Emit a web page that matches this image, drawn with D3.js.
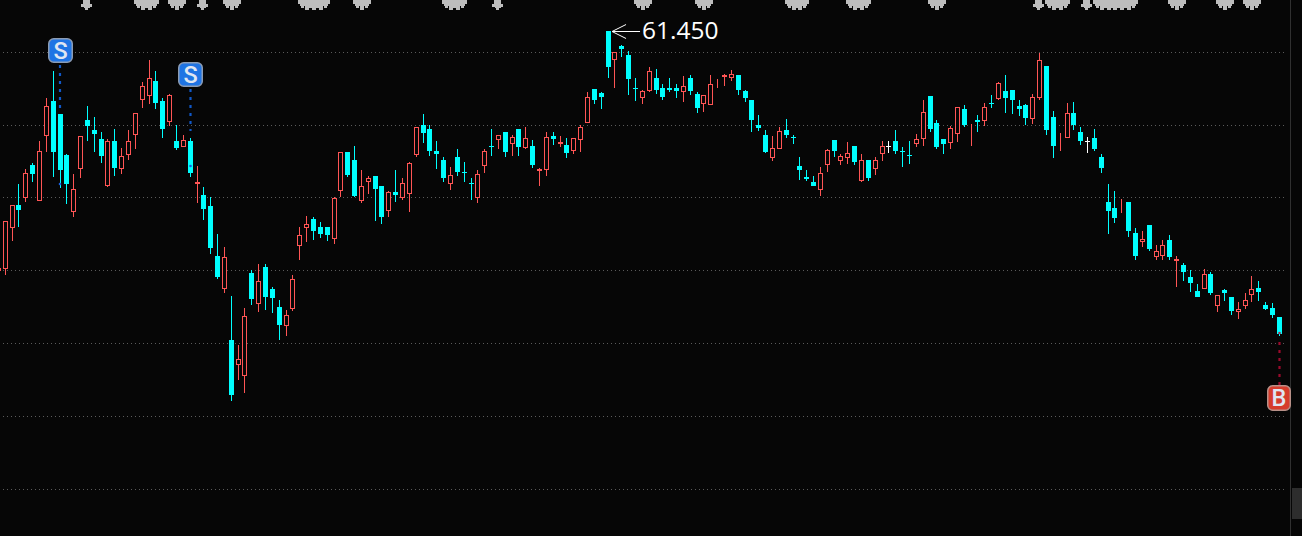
<!DOCTYPE html>
<html><head><meta charset="utf-8">
<script src="https://cdn.jsdelivr.net/npm/d3@7"></script>
<style>html,body{margin:0;padding:0;background:#060606;overflow:hidden}svg{display:block}</style>
</head><body><svg id="c" width="1302" height="536"></svg>
<script>
const opens=[44.99,45.13,47.95,49.53,50.01,52.27,49.81,54.26,56.67,55.78,
52.96,49.05,52.00,55.36,54.68,54.06,50.83,53.92,52.00,52.96,
54.33,56.74,57.01,58.04,56.67,55.23,53.92,53.51,53.92,50.97,
50.21,49.46,46.02,43.76,40.26,38.54,37.78,44.86,42.73,45.27,
43.76,42.52,41.22,42.38,46.71,47.95,48.57,48.02,48.02,47.19,
50.49,53.17,52.62,49.80,51.11,51.52,50.83,49.11,50.42,50.01,
50.28,52.96,55.02,54.75,53.23,52.62,50.97,52.82,51.79,51.04,
50.01,52.21,53.58,53.99,54.54,53.72,54.75,53.44,53.58,51.86,
51.93,54.26,53.72,53.65,53.23,53.99,55.16,57.49,57.22,61.45,
59.49,60.45,59.83,57.56,56.88,57.36,58.25,57.56,57.56,57.56,
57.29,58.25,57.15,56.46,56.40,57.97,58.32,58.25,58.46,57.36,
56.74,55.02,54.33,52.75,53.37,54.68,54.20,52.21,51.45,51.11,
50.56,52.27,53.99,52.55,52.75,53.58,51.17,52.62,52.00,53.03,
53.56,53.92,53.23,52.96,53.72,54.06,57.01,55.16,54.06,53.78,
54.40,56.12,54.61,55.36,55.30,56.53,56.81,57.36,57.42,56.33,
56.40,55.43,56.88,59.07,55.57,53.99,54.13,55.85,54.54,53.89,
54.13,52.82,49.73,49.32,49.46,49.73,47.61,46.98,48.15,45.96,
46.02,47.12,45.68,45.41,44.58,43.62,43.76,44.79,42.59,43.69,
43.21,42.18,42.59,43.35,43.83,42.66,42.45,41.83];
const closes=[45.20,48.43,49.53,49.18,51.72,51.66,53.23,56.33,53.17,51.93,
50.97,50.63,54.26,54.95,54.40,52.89,53.92,52.07,52.89,53.92,
55.85,57.70,58.25,56.53,54.75,57.08,53.44,53.99,51.72,51.11,
49.25,46.57,44.58,45.96,36.48,38.95,41.90,43.07,44.31,43.21,
43.14,41.29,41.97,44.44,47.47,48.22,47.74,47.53,47.47,50.01,
53.17,51.59,50.14,50.83,51.38,50.63,48.70,50.42,50.21,51.04,
52.41,54.88,54.47,53.23,53.03,51.38,51.59,51.79,51.72,50.97,
51.66,53.23,53.51,54.33,53.17,54.20,53.51,54.13,52.27,52.00,
54.20,54.06,53.85,53.10,54.13,54.88,56.94,56.74,56.94,59.00,
60.03,60.24,58.18,57.49,57.36,58.73,57.42,56.94,57.42,57.36,
57.70,57.36,56.19,57.08,57.84,58.04,58.46,58.52,57.42,56.88,
55.36,54.81,53.17,53.44,54.61,54.33,54.13,51.93,51.31,50.83,
51.72,53.30,53.23,52.89,53.10,52.48,52.62,51.38,52.62,53.58,
53.56,53.23,53.17,52.89,54.06,55.91,54.75,53.51,53.72,54.81,
56.26,55.02,54.68,55.23,56.26,56.46,57.91,56.88,56.74,56.12,
55.50,56.94,59.49,54.68,53.58,54.06,55.85,55.02,53.92,53.89,
53.37,52.07,49.11,48.63,49.53,47.74,46.02,47.19,46.50,46.37,
46.78,45.96,45.82,44.92,44.17,43.21,44.79,43.48,43.35,43.48,
42.25,42.38,43.00,43.76,43.55,42.38,41.97,40.67];
const highs=[45.20,48.43,49.53,50.97,52.00,52.41,53.92,56.88,58.73,55.78,
53.03,51.66,54.26,56.33,55.57,54.54,54.06,54.75,53.44,54.68,
55.85,57.97,59.49,58.73,56.88,57.15,55.02,54.33,54.13,52.21,
50.76,50.07,47.53,46.64,43.28,39.91,42.45,45.06,45.47,45.47,
43.90,43.00,42.32,44.72,48.02,48.77,48.70,48.36,48.02,50.07,
53.17,53.17,53.58,51.93,51.52,51.52,50.83,50.49,51.93,51.38,
52.48,54.88,55.78,55.02,53.92,52.82,52.14,53.37,52.48,51.38,
51.93,53.37,54.75,54.33,54.54,54.33,54.75,54.88,53.99,52.07,
54.54,54.54,54.26,54.13,54.13,55.02,57.29,57.49,57.29,61.45,
60.03,60.52,60.10,58.25,57.42,59.00,58.87,57.84,58.25,57.84,
58.39,58.46,57.29,57.08,58.46,58.18,58.52,58.80,58.46,57.42,
56.74,55.71,54.68,54.26,54.88,55.43,54.33,52.82,51.93,51.52,
52.14,53.37,53.99,53.03,53.85,53.58,53.03,52.62,52.82,53.92,
53.92,54.68,53.51,53.92,54.40,56.74,57.01,55.36,54.06,54.95,
56.26,56.40,55.09,55.71,56.53,57.08,57.97,58.46,57.42,56.74,
56.46,57.15,59.97,59.07,55.98,54.47,56.53,56.60,54.88,54.20,
54.75,53.03,50.97,50.49,49.94,49.73,47.95,47.74,48.15,46.78,
47.12,47.47,46.02,45.54,45.06,44.10,45.13,44.92,43.35,43.76,
43.21,42.86,43.48,44.65,44.31,42.86,42.79,41.83];
const lows=[44.92,44.72,47.05,48.02,49.73,51.11,49.81,53.17,51.45,50.69,
49.60,48.70,51.38,53.92,53.17,52.41,50.76,51.52,51.66,52.62,
53.37,56.19,56.46,56.12,54.13,54.95,53.30,53.51,51.45,49.66,
48.50,46.16,44.44,43.48,36.07,37.51,36.61,42.66,42.18,42.32,
42.11,40.26,40.53,42.25,45.75,46.98,47.12,47.26,47.05,46.85,
50.07,51.45,50.07,49.66,50.28,48.43,48.22,48.70,49.73,49.87,
49.05,52.82,53.78,52.89,52.00,51.11,50.56,51.52,51.11,49.87,
49.66,51.72,52.89,53.37,52.82,52.89,52.89,53.37,52.07,50.83,
51.52,53.65,53.51,52.75,53.03,53.17,55.16,56.46,56.12,58.25,
57.56,59.69,57.08,56.67,56.46,57.29,57.15,56.74,57.29,56.88,
56.60,57.08,55.85,55.91,56.40,57.56,57.70,58.04,57.08,56.60,
54.54,54.61,53.10,52.55,53.37,54.13,53.72,51.24,51.17,50.83,
50.14,51.79,52.82,52.27,52.34,52.27,51.11,51.17,51.59,52.55,
53.10,53.03,52.14,52.34,53.51,53.58,54.54,53.37,53.03,53.37,
53.85,54.88,53.58,54.54,54.95,56.19,56.74,55.85,55.78,55.64,
55.02,55.09,56.74,54.33,52.75,53.23,54.13,54.68,53.65,53.10,
53.23,51.72,47.53,48.29,48.98,47.33,45.75,46.64,46.37,45.75,
45.75,45.75,43.89,44.31,43.55,43.21,43.76,43.35,42.18,42.93,
41.97,41.70,42.38,42.86,42.93,42.31,41.76,40.53];
const gridPrices=[60,55,50,45,40,35,30];
const gearIdx=[21,22,26,34,45,46,47,53,66,67,94,103,116,117,125,126,137,154,155,161,162,163,164,165,172,179,183];
const spadeIdx=[13,30,73,152,159];
const peakLabel="61.450", peakIdx=89;

const W=1302,H=536,BG="#060606",RED="#ff5555",CY="#00ffff";
const svg=d3.select("#c");
const x=d3.scaleLinear().domain([0,187]).range([-1.6,1279.35]);
const y=d3.scaleLinear().domain([30,60]).range([489,52.2]);
svg.append("rect").attr("width",W).attr("height",H).attr("fill",BG);

// grid
svg.append("g").selectAll("line").data(gridPrices).join("line")
 .attr("x1",3).attr("x2",1287)
 .attr("y1",d=>Math.floor(y(d))+.5).attr("y2",d=>Math.floor(y(d))+.5)
 .attr("stroke","#5a5a5a").attr("stroke-width",1).attr("stroke-dasharray","1 3");

// right edge
svg.append("rect").attr("x",1290).attr("y",0).attr("width",1).attr("height",H).attr("fill","#303030");
svg.append("rect").attr("x",1292).attr("y",488).attr("width",10).attr("height",31).attr("fill","#2d2d2d");

// candles
const idx=d3.range(opens.length);
const col=i=>Math.floor(x(i));
const colour=i=>closes[i]>opens[i]?RED:closes[i]<opens[i]?CY:"#ffffff";
const g=svg.append("g").attr("shape-rendering","crispEdges");
g.selectAll("rect.w").data(idx).join("rect").attr("class","w")
 .attr("x",col).attr("width",1)
 .attr("y",i=>Math.round(y(highs[i])))
 .attr("height",i=>Math.max(1,Math.round(y(lows[i]))-Math.round(y(highs[i]))))
 .attr("fill",colour);
g.selectAll("rect.b").data(idx).join("rect").attr("class","b")
 .each(function(i){
   const t=Math.round(y(Math.max(opens[i],closes[i]))),b=Math.round(y(Math.min(opens[i],closes[i])));
   const s=d3.select(this);
   if(closes[i]>opens[i]){
     s.attr("x",col(i)-1.5).attr("width",4).attr("y",t+.5).attr("height",Math.max(b-t-1,0))
      .attr("fill",BG).attr("stroke",RED).attr("stroke-width",1);
   }else{
     s.attr("x",col(i)-2).attr("width",5).attr("y",t).attr("height",Math.max(b-t,1)).attr("fill",colour(i));
   }
 });

// top markers
const gear="M-9,0H9V4H7V6H6V8H3V6H2V10H-2V6H-3V8H-6V6H-7V4H-9Z";
const spade="M-3.5,0H3.5V4H5.5V7H3V8H1.5V10H-1.5V8H-3V7H-5.5V4H-3.5Z";
const topMarks=svg.append("g").attr("fill","#bdbdbd").attr("shape-rendering","crispEdges");
topMarks.selectAll("path.g").data(gearIdx).join("path").attr("class","g").attr("d",gear)
 .attr("transform",i=>`translate(${col(i)+.5},0)`);
topMarks.selectAll("path.s").data(spadeIdx).join("path").attr("class","s").attr("d",spade)
 .attr("transform",i=>`translate(${col(i)-1+.5},0)`);

// peak annotation
const px=x(peakIdx)+4, py=Math.round(y(highs[peakIdx]))+.5;
const ann=svg.append("g").attr("stroke","#fff").attr("stroke-width",1).attr("fill","none");
ann.append("line").attr("x1",px).attr("x2",px+28).attr("y1",py).attr("y2",py);
ann.append("path").attr("d",`M${px+14},${py-7}L${px},${py}L${px+14},${py+7}`);
svg.append("text").attr("x",642).attr("y",39).attr("fill","#fff")
 .attr("font-family","'Open Sans'").attr("font-size",24.5).text(peakLabel);

// signals
function signal(cx,bx,by,bw,bh,txt,fill,dash,y0,y1,dotY,dotC,border){
  svg.append("line").attr("x1",cx).attr("x2",cx).attr("y1",y0).attr("y2",y1)
   .attr("stroke",dash).attr("stroke-width",2.2).attr("stroke-dasharray","3 5");
  svg.append("circle").attr("cx",cx).attr("cy",dotY).attr("r",1.3).attr("fill",dotC);
  svg.append("rect").attr("x",bx+.75).attr("y",by+.75).attr("width",bw-1.5).attr("height",bh-1.5).attr("rx",5)
   .attr("fill",fill).attr("stroke",border).attr("stroke-width",1.5);
  svg.append("text").attr("x",bx+bw/2).attr("y",by+bh/2+8.3).attr("text-anchor","middle")
   .attr("font-family","Roboto").attr("font-weight",500).attr("font-size",23.5).attr("fill","#dfe6f2").text(txt);
}
signal(60,48,38,25,25,"S","#1f74e4","#1058c8",65,108,184,"#1a5fe0","#8c9cb4");
signal(190.5,178,62,25,25,"S","#1f74e4","#1058c8",89,131,166,"#1a5fe0","#8c9cb4");
signal(1279.5,1267,385,24,26,"B","#d63c2c","#9a0a2c",342,385,333,"#a03050","#b89088");
</script></body></html>
